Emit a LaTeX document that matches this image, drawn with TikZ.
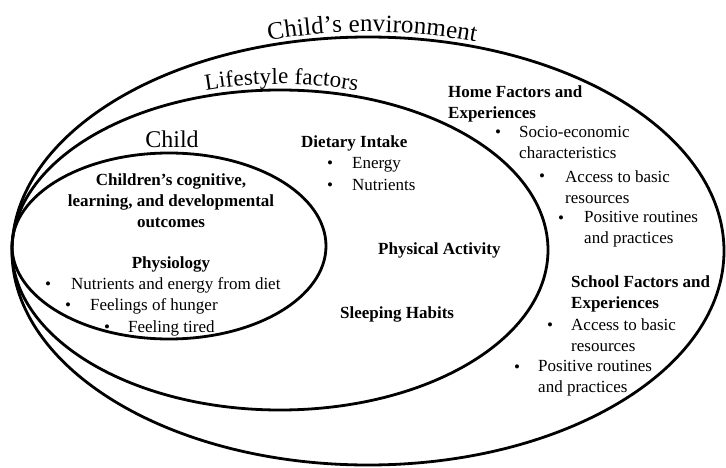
\documentclass[tikz,border=0pt]{standalone}
\usepackage{fontspec}
\setmainfont{Liberation Serif}
\usetikzlibrary{decorations.text}
\tikzset{rim/.style = {line width=2.8pt},
         lbl/.style = {inner sep=0pt, font=\fontsize{17}{21}\selectfont},
         hd/.style  = {inner sep=0pt, font=\fontsize{17}{21}\selectfont\bfseries},
         bul/.style = {inner sep=0pt, anchor=base, font=\fontsize{17}{21}\selectfont},
         big/.style = {inner sep=0pt, anchor=base, font=\fontsize{24}{28}\selectfont},
         arctext/.style = {decorate, decoration={text along path, text align=center, raise=#1}}}

\begin{document}
\begin{tikzpicture}[x=1pt, y=-1pt]
    \useasboundingbox (0,0) rectangle (726,468);
    % the three rings
    \draw[rim] (368,251) ellipse [x radius=356, y radius=214];
    \draw[rim] (280,250) ellipse [x radius=268, y radius=160];
    \draw[rim] (169,246) ellipse [x radius=157, y radius=93];
    % curved titles
    \path[arctext=5pt, decoration={text={|\fontsize{25}{30}\selectfont|Child's environment}}]
        (368,251) ++(202:356 and 214) arc[start angle=202, end angle=340, x radius=356, y radius=214];
    \path[arctext=6pt, decoration={text={|\fontsize{23}{28}\selectfont|Lifestyle factors}}]
        (280,250) ++(200:268 and 160) arc[start angle=200, end angle=341, x radius=268, y radius=160];
    % child
    \node[big] (child) at (172,148) {Child};
    \node[hd, align=center, anchor=north] (outc) at (171,173.5) {Children's cognitive,\\learning, and developmental\\outcomes};
    \node[hd, anchor=base] (phys) at (171,268) {Physiology};
    \node[bul] (p1) at (48,289) {\textbullet};  \node[lbl, anchor=base west] (diet) at (71,289) {Nutrients and energy from diet};
    \node[bul] (p2) at (68,310) {\textbullet};  \node[lbl, anchor=base west] (hung) at (90,310) {Feelings of hunger};
    \node[bul] (p3) at (107,332) {\textbullet}; \node[lbl, anchor=base west] (tire) at (128,332) {Feeling tired};
    % lifestyle
    \node[hd, anchor=base west] (intk) at (301,148) {Dietary Intake};
    \node[bul] (i1) at (330,169) {\textbullet}; \node[lbl, anchor=base west] (enrg) at (352,169) {Energy};
    \node[bul] (i2) at (330,191) {\textbullet}; \node[lbl, anchor=base west] (nutr) at (352,191) {Nutrients};
    \node[hd, anchor=base west] (actv) at (378,254) {Physical Activity};
    \node[hd, anchor=base west] (slep) at (340,318) {Sleeping Habits};
    % environment
    \node[hd, align=left, anchor=north west] (home) at (448,85.5) {Home Factors and\\Experiences};
    \node[bul] (h1) at (498,138) {\textbullet}; \node[lbl, align=left, anchor=north west] (soci) at (519,126.5) {Socio-economic\\characteristics};
    \node[bul] (h2) at (542,182) {\textbullet}; \node[lbl, align=left, anchor=north west] (hres) at (565,170.5) {Access to basic\\resources};
    \node[bul] (h3) at (561,223) {\textbullet}; \node[lbl, align=left, anchor=north west] (hrou) at (584,211.5) {Positive routines\\and practices};
    \node[hd, align=left, anchor=north west] (schl) at (571,275.5) {School Factors and\\Experiences};
    \node[bul] (s1) at (550,330) {\textbullet}; \node[lbl, align=left, anchor=north west] (sres) at (571,318.5) {Access to basic\\resources};
    \node[bul] (s2) at (517,372) {\textbullet}; \node[lbl, align=left, anchor=north west] (srou) at (538,360.5) {Positive routines\\and practices};
\end{tikzpicture}
\end{document}
